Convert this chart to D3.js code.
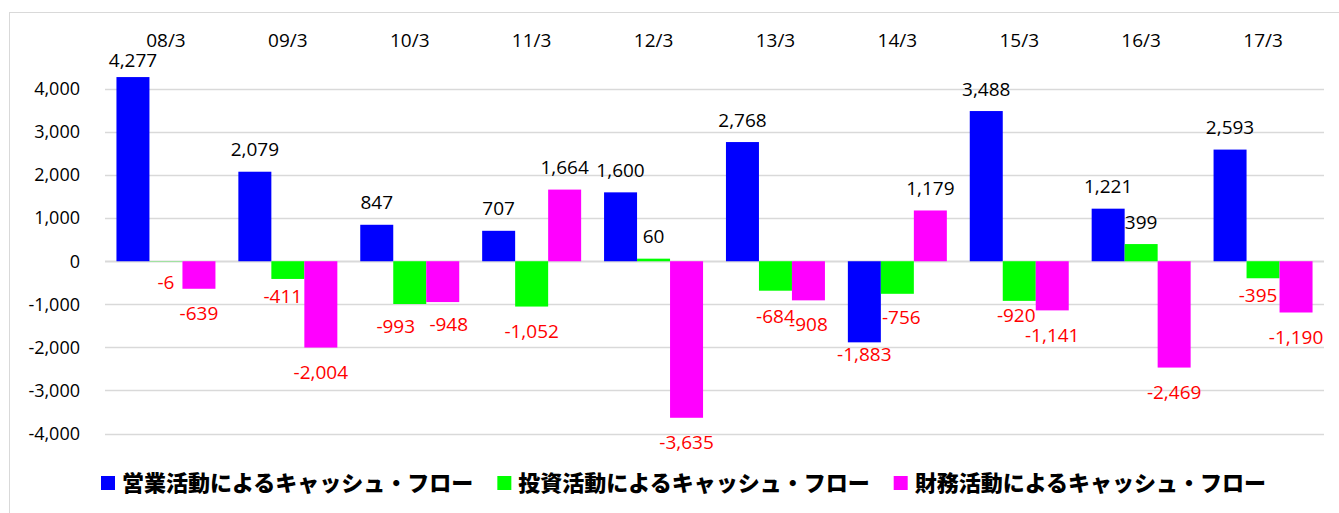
<!DOCTYPE html>
<html>
<head>
<meta charset="utf-8">
<script src="https://cdn.jsdelivr.net/npm/d3@7"></script>
<style>
  body { margin: 0; background: #fff; }
  svg { display: block; }
</style>
</head>
<body>
<svg id="chart"></svg>
<script>
const width = 1339,
  height = 513;

// data (百万円)
const periods = ["08/3", "09/3", "10/3", "11/3", "12/3", "13/3", "14/3", "15/3", "16/3", "17/3"];
const operating = [4277, 2079, 847, 707, 1600, 2768, -1883, 3488, 1221, 2593];
const investing = [-6, -411, -993, -1052, 60, -684, -756, -920, 399, -395];
const financing = [-639, -2004, -948, 1664, -3635, -908, 1179, -1141, -2469, -1190];
const seriesNames = [
  "営業活動によるキャッシュ・フロー",
  "投資活動によるキャッシュ・フロー",
  "財務活動によるキャッシュ・フロー"
];
const yTicks = [-4000, -3000, -2000, -1000, 0, 1000, 2000, 3000, 4000];

const colors = ["#0000ff", "#00ff00", "#ff00ff"];
const series = [operating, investing, financing];

// label nudges [dx, dy] where Excel moved labels apart ("series:index")
const labelNudge = {
  "0:6": [0, -13],
  "1:0": [0, -4],
  "1:1": [-5, -8],
  "1:2": [-14, -3],
  "2:2": [6, -3],
  "1:5": [0, 1],
  "2:5": [0, -1],
  "1:6": [4, -1],
  "1:7": [-3, -11],
  "1:9": [-5, -8]
};

// Excel style numbers: hyphen minus, thousands comma
const fmt = d3.formatLocale({
  decimal: ".", thousands: ",", grouping: [3], currency: ["", ""], minus: "-"
}).format(",");

const svg = d3.select("#chart").attr("width", width).attr("height", height);

// outer chart border
svg.append("rect")
  .attr("x", 9.5).attr("y", 12.5)
  .attr("width", width).attr("height", height)
  .attr("fill", "none").attr("stroke", "#d9d9d9");

const plot = { left: 105, right: 1324 };

const x = d3.scaleBand()
  .domain(periods)
  .range([plot.left, plot.right])
  .paddingInner(0.188)
  .paddingOuter(0.094);

const xs = d3.scaleBand()
  .domain([0, 1, 2])
  .range([0, x.bandwidth()]);

const y = d3.scaleLinear()
  .domain([-4000, 4000])
  .range([433.5, 89]);

const numFont = "'Open Sans', 'Noto Sans', sans-serif";

// gridlines
svg.append("g")
  .selectAll("line")
  .data(yTicks)
  .join("line")
  .attr("x1", plot.left).attr("x2", plot.right)
  .attr("y1", d => Math.round(y(d)) + 0.5)
  .attr("y2", d => Math.round(y(d)) + 0.5)
  .attr("stroke", "#d9d9d9")
  .attr("stroke-width", d => d === 0 ? 2 : 1.5);

// y axis labels
svg.append("g")
  .selectAll("text")
  .data(yTicks)
  .join("text")
  .attr("x", 80)
  .attr("y", d => y(d))
  .attr("dy", "0.35em")
  .attr("text-anchor", "end")
  .attr("font-family", numFont)
  .attr("font-size", 18)
  .attr("fill", "#000")
  .text(d => fmt(d));

// category labels on top
svg.append("g")
  .selectAll("text")
  .data(periods)
  .join("text")
  .attr("x", d => x(d) + x.bandwidth() / 2)
  .attr("y", 40)
  .attr("dy", "0.35em")
  .attr("text-anchor", "middle")
  .attr("font-family", numFont)
  .attr("font-size", 19)
  .attr("fill", "#000")
  .text(d => d);

// bars + labels
series.forEach((vals, s) => {
  const g = svg.append("g");
  const pts = vals.map((v, i) => ({ v, i, p: periods[i] }));

  g.selectAll("rect")
    .data(pts)
    .join("rect")
    .attr("x", d => x(d.p) + xs(s))
    .attr("width", xs.bandwidth())
    .attr("y", d => Math.min(y(d.v), y(0)))
    .attr("height", d => Math.abs(y(d.v) - y(0)))
    .attr("fill", colors[s]);

  g.selectAll("text")
    .data(pts)
    .join("text")
    .attr("x", d => {
      const n = labelNudge[s + ":" + d.i] || [0, 0];
      return x(d.p) + xs(s) + xs.bandwidth() / 2 + n[0];
    })
    .attr("y", d => {
      const n = labelNudge[s + ":" + d.i] || [0, 0];
      const base = d.v >= 0 ? Math.max(y(d.v) - 22, 60) : y(d.v) + 25;
      return base + n[1];
    })
    .attr("dy", "0.35em")
    .attr("text-anchor", "middle")
    .attr("font-family", numFont)
    .attr("font-size", 19)
    .attr("fill", d => d.v < 0 ? "#ff0000" : "#000")
    .text(d => fmt(d.v));
});

// legend
const legend = svg.append("g").attr("transform", "translate(101,483)");
let lx = 0;
seriesNames.forEach((name, s) => {
  const item = legend.append("g").attr("transform", `translate(${lx},0)`);
  item.append("rect")
    .attr("x", 0).attr("y", -7)
    .attr("width", 14).attr("height", 14)
    .attr("fill", colors[s]);
  const t = item.append("text")
    .attr("x", 21)
    .attr("y", 0)
    .attr("dy", "0.36em")
    .attr("font-family", "'Noto Sans CJK JP', sans-serif")
    .attr("font-weight", 900)
    .attr("font-size", 22)
    .attr("fill", "#000")
    .text(name);
  lx += 21 + t.node().getComputedTextLength() + 24;
});
</script>
</body>
</html>
